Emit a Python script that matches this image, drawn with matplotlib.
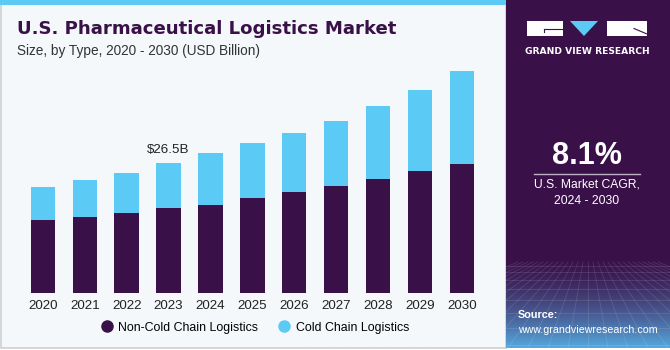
import numpy as np
import matplotlib
matplotlib.use("Agg")
import matplotlib.pyplot as plt
from matplotlib.patches import Rectangle, Polygon
from matplotlib.lines import Line2D

# ---- data ----
years = ["2020", "2021", "2022", "2023", "2024", "2025", "2026", "2027", "2028", "2029", "2030"]
non_cold = [14.9, 15.6, 16.4, 17.3, 18.1, 19.4, 20.6, 21.8, 23.2, 24.9, 26.4]
cold = [6.8, 7.4, 8.1, 9.2, 10.4, 11.2, 12.1, 13.4, 14.9, 16.5, 18.9]
series_names = ["Non-Cold Chain Logistics", "Cold Chain Logistics"]
annot_year = "2023"
annot_text = "$26.5B"
cagr_text = "8.1%"
cagr_label = "U.S. Market CAGR,\n2024 - 2030"

DARK = "#3A1048"
CYAN = "#5BCAF5"
BG = "#F4F8FB"
W, H = 670, 350

plt.rcParams['font.family'] = ['Liberation Sans', 'DejaVu Sans']

fig = plt.figure(figsize=(6.7, 3.5), dpi=100)
fig.patch.set_facecolor("white")

# background axes in pixel coordinates
bg = fig.add_axes([0, 0, 1, 1])
bg.set_xlim(0, W)
bg.set_ylim(H, 0)
bg.set_autoscale_on(False)
bg.axis("off")

# left panel
bg.add_patch(Rectangle((0.5, 0), 505, 348, facecolor=BG, edgecolor="#CFCFCF", lw=1.2, zorder=0))
bg.add_patch(Rectangle((0, 0), 506, 5, facecolor=CYAN, edgecolor="none", zorder=1))
# right panel
bg.add_patch(Rectangle((506, 0), 164, 348, facecolor=DARK, edgecolor="none", zorder=1))

# gradient at bottom of right panel
grad_h = 92
g = np.linspace(0, 1, grad_h)[:, None]
top_c = np.array(matplotlib.colors.to_rgb(DARK))
bot_c = np.array(matplotlib.colors.to_rgb("#55A8DE"))
mix = (g ** 1.5)[:, :, None]
img = (1 - mix) * top_c[None, None, :] + mix * bot_c[None, None, :]
img = np.repeat(img, 2, axis=1)
bg.imshow(img, extent=(506, 670, 348, 348 - grad_h), aspect="auto", zorder=2, interpolation="bilinear")
# faint perspective grid
for k in range(-14, 15):
    x0 = 588 + k * 5
    x1 = 588 + k * 20
    bg.plot([x0, x1], [262, 348], color="white", alpha=0.12, lw=0.6, zorder=3)
for yy in [266, 272, 280, 289, 300, 313, 328, 345]:
    bg.plot([506, 670], [yy, yy], color="white", alpha=0.12, lw=0.6, zorder=3)

# logo
bg.add_patch(Rectangle((527, 21), 36, 15, facecolor="white", edgecolor="none", zorder=4))
bg.plot([544, 563], [29, 29], color=DARK, lw=0.8, zorder=5)
bg.plot([544, 544], [29, 32], color=DARK, lw=0.8, zorder=5)
bg.add_patch(Polygon([(570, 21), (598, 21), (584, 36)], closed=True, facecolor=CYAN, edgecolor="none", zorder=4))
bg.add_patch(Rectangle((607, 21), 40, 15, facecolor="white", edgecolor="none", zorder=4))
bg.plot([634, 647], [28.5, 34], color=DARK, lw=0.8, zorder=5)
bg.text(587, 51.5, "GRAND VIEW RESEARCH", color="white", fontsize=6.6, fontweight="bold",
        ha="center", va="center", zorder=5, family=["DejaVu Sans"])

# CAGR
bg.text(587, 156, cagr_text, color="white", fontsize=22, fontweight="bold", ha="center", va="center", zorder=5)
bg.plot([534, 640], [173.5, 173.5], color="#BBAFC4", lw=1.0, zorder=5)
bg.text(587, 193, cagr_label, color="white", fontsize=8.7, ha="center", va="center",
        linespacing=1.45, zorder=5)

# source
bg.text(518, 315, "Source:", color="white", fontsize=7.8, fontweight="bold", ha="left", va="center", zorder=5)
bg.text(518, 330, "www.grandviewresearch.com", color="white", fontsize=7.7, ha="left", va="center", zorder=5)

# titles
bg.text(17, 28.5, "U.S. Pharmaceutical Logistics Market", color=DARK, fontsize=13.1, fontweight="bold",
        ha="left", va="center", zorder=5, family=["DejaVu Sans"])
bg.text(17, 50.5, "Size, by Type, 2020 - 2030 (USD Billion)", color="#333333", fontsize=9.8,
        ha="left", va="center", zorder=5)

# bar axes
L, Wd = 21.9, 460.9
base_y = 293.3
scale = 4.906  # px per billion
top_px = 60
ax = fig.add_axes([L / W, (H - base_y) / H, Wd / W, (base_y - top_px) / H])
ax.set_xlim(-0.5, 10.5)
ax.set_ylim(0, (base_y - top_px) / scale)
ax.patch.set_alpha(0)
for s in ax.spines.values():
    s.set_visible(False)
x = np.arange(len(years))
ax.bar(x, non_cold, width=0.58, color=DARK, label=series_names[0], zorder=2)
ax.bar(x, cold, width=0.58, bottom=non_cold, color=CYAN, label=series_names[1], zorder=2)
ax.set_xticks(x)
ax.set_xticklabels(years, fontsize=9.6, color="#222222")
ax.tick_params(axis="x", length=0, pad=5)
ax.set_yticks([])
i = years.index(annot_year)
tot = non_cold[i] + cold[i]
ax.text(x[i], tot + 1.5, annot_text, ha="center", va="bottom", fontsize=9.6, color="#222222")

# legend
handles = [Line2D([], [], marker="o", ls="none", color=DARK, markersize=8),
           Line2D([], [], marker="o", ls="none", color=CYAN, markersize=8)]
fig.legend(handles, series_names, loc="center", bbox_to_anchor=(255 / W, 1 - 327.5 / H),
           ncol=2, frameon=False, fontsize=8.9, handletextpad=0.45, columnspacing=1.6,
           handlelength=1.0)

fig.savefig("out.png", dpi=100, facecolor=fig.get_facecolor())
